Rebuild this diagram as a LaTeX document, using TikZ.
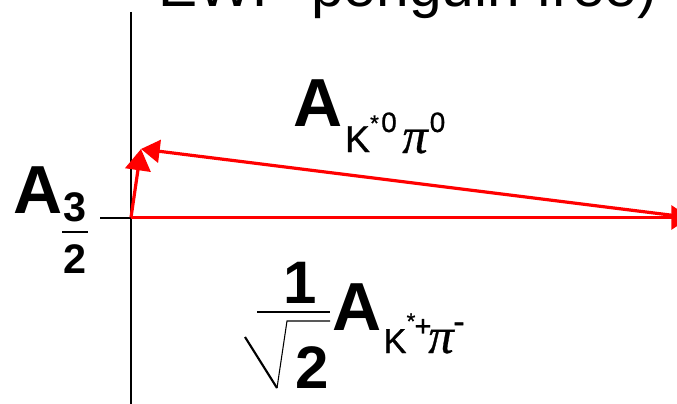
\documentclass[tikz,border=0pt]{standalone}
\usepackage{fontspec}
\setmainfont{Liberation Sans}
\newfontfamily\medfont[FakeBold=0.8]{Liberation Sans}
\newfontfamily\pifont[FakeBold=0.6]{Liberation Serif}
\usetikzlibrary{arrows.meta}
\tikzset{
  lbl/.style={inner sep=0pt, outer sep=0pt, anchor=base},
  bigA/.style={lbl, font=\fontsize{51}{51}\selectfont\bfseries},
  subK/.style={lbl, font=\fontsize{28}{28}\selectfont\medfont},
  subKs/.style={lbl, font=\fontsize{26}{26}\selectfont\medfont},
  supr/.style={lbl, font=\fontsize{21}{21}\selectfont\medfont},
  star/.style={lbl, font=\fontsize{17}{17}\selectfont\medfont},
  piglyph/.style={lbl, font=\fontsize{38}{38}\selectfont\pifont\itshape},
  fracd/.style={lbl, font=\fontsize{31}{31}\selectfont\bfseries},
  bigd/.style={lbl, font=\fontsize{45}{45}\selectfont\bfseries},
  axis/.style={draw=black, line width=1.5pt},
  vec/.style={draw=red, line width=2.4pt},
}
\begin{document}
\begin{tikzpicture}[x=0.75pt,y=-0.75pt]
\useasboundingbox (0,0) rectangle (677,403);
\clip (0,0) rectangle (677,403);
% title (cut off at top, as in the reference)
\node[lbl, anchor=base west, font=\fontsize{44}{44}\selectfont] (title) at (158,7) {EWP-penguin free)};
% coordinates
\coordinate (ytop) at (131,12);
\coordinate (ybot) at (131,405);
\coordinate (xl) at (100,217.5);
\coordinate (O) at (131,217.5);
\coordinate (T) at (690,217.5);
\coordinate (P) at (141,149);
% axes
\draw[axis] (ytop) -- (ybot);
\draw[axis] (xl) -- (O);
% vectors
\draw[vec, -{Triangle[length=14pt,width=18pt]}] (O) -- (T);
\draw[vec, -{Triangle[length=14pt,width=17pt]}] (T) -- (P);
\draw[vec, -{Triangle[length=16pt,width=19pt]}] (O) -- (P);
% A_{3/2}
\node[bigA] (A32) at (38.5,213) {A};
\node[fracd] (n3) at (75,221) {3};
\coordinate (fb1) at (62,232);
\coordinate (fb2) at (88,232);
\draw[line width=1.5pt] (fb1) -- (fb2);
\node[fracd] (d2) at (75,273) {2};
% A_{K*0 pi0}
\node[bigA] (Atop) at (318,126) {A};
\node[subK] (Ktop) at (357.5,152) {K};
\node[star] (sttop) at (374.5,131) {*};
\node[supr] (z1) at (389,132) {0};
\node[piglyph] (pitop) at (415,153) {π};
\node[supr] (z2) at (437.5,132) {0};
% 1/sqrt2 A_{K*+ pi-}
\node[bigd] (one) at (300.5,303) {1};
\coordinate (b1) at (257,312);
\coordinate (b2) at (330,312);
\draw[line width=1.8pt] (b1) -- (b2);
\coordinate (r1) at (245,337);
\coordinate (r2) at (277,388);
\coordinate (r3) at (287,321);
\coordinate (r4) at (330,321);
\draw[line width=1.6pt] (r1) -- (r2);
\draw[line width=0.8pt] (r2) -- (r3) -- (r4);
\node[bigd] (two) at (312.5,388) {2};
\node[bigA] (Abot) at (357,330) {A};
\node[subKs] (Kbot) at (395,353) {K};
\node[star] (stbot) at (411,329) {*};
\node[lbl, font=\fontsize{22}{22}\selectfont\medfont] (plus) at (423,336) {+};
\node[piglyph] (pibot) at (441,353) {π};
\node[lbl, font=\fontsize{26}{26}\selectfont\medfont] (minus) at (459,333) {-};
\end{tikzpicture}
\end{document}
